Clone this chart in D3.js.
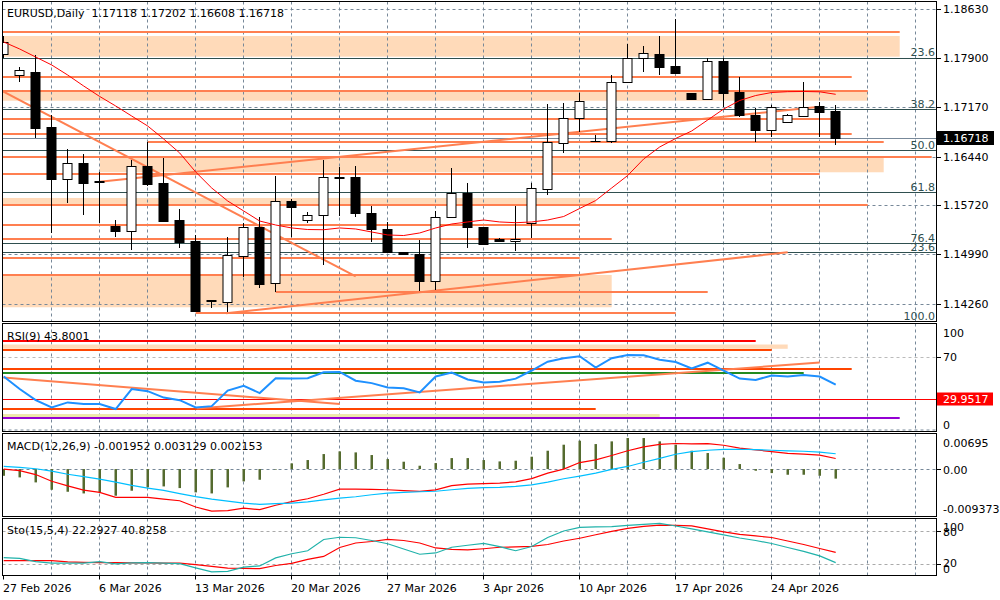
<!DOCTYPE html>
<html>
<head>
<meta charset="utf-8">
<script src="https://cdn.jsdelivr.net/npm/d3@7"></script>
<style>
body { margin: 0; background: #fff; }
svg { display: block; font-family: "DejaVu Sans", sans-serif; font-size: 11px; }
</style>
</head>
<body>
<div id="chart"></div>
<script>
// EURUSD daily bars, one per trading day (incl. sunday bars)
var bar_open = [1.17963,1.17656,1.17700,1.16885,1.16105,1.16342,1.16075,1.15412,1.15343,1.16302,
	1.16054,1.15501,1.15194,1.14300,1.14290,1.14972,1.15402,1.14563,1.15783,1.15501,
	1.15575,1.16134,1.16134,1.15601,1.15372,1.15022,1.14993,1.14601,1.15541,1.15897,
	1.15393,1.15215,1.15190,1.15461,1.15956,1.16639,1.17009,1.16672,1.16677,1.17543,
	1.17899,1.17963,1.17785,1.17380,1.17291,1.17859,1.17404,1.17058,1.16836,1.16959,
	1.17048,1.17192,1.17118];
var bar_high = [1.18230,1.17774,1.17948,1.17058,1.16554,1.16480,1.16213,1.15501,1.16391,1.16662,
	1.16421,1.15664,1.15279,1.14315,1.15249,1.15461,1.15546,1.16158,1.15813,1.15624,
	1.16391,1.16292,1.16302,1.15709,1.15476,1.15034,1.15205,1.15635,1.16268,1.16045,
	1.15398,1.15230,1.15709,1.16054,1.17221,1.17232,1.17389,1.16762,1.17651,1.18111,
	1.18081,1.18230,1.18482,1.17389,1.17908,1.17908,1.17626,1.17158,1.17206,1.17066,
	1.17552,1.17255,1.17202];
var bar_low = [1.17903,1.17552,1.16713,1.15309,1.15753,1.15575,1.15457,1.15254,1.15056,1.16005,
	1.15471,1.15086,1.14145,1.14196,1.14142,1.14661,1.14489,1.14438,1.15249,1.15452,
	1.14834,1.15561,1.15541,1.15179,1.15012,1.14982,1.14453,1.14463,1.15526,1.15082,
	1.15131,1.15175,1.15046,1.15230,1.15872,1.16499,1.16811,1.16662,1.16639,1.17533,
	1.17700,1.17651,1.17667,1.17288,1.17281,1.17181,1.17024,1.16662,1.16728,1.16944,
	1.17033,1.16736,1.16608];
var bar_close = [1.18141,1.17725,1.16861,1.16109,1.16342,1.16054,1.16060,1.15343,1.16302,1.16035,
	1.15491,1.15179,1.14152,1.14310,1.14982,1.15393,1.14552,1.15783,1.15690,1.15575,
	1.16134,1.16130,1.15601,1.15372,1.15022,1.14993,1.14601,1.15541,1.15897,1.15402,
	1.15141,1.15190,1.15212,1.15971,1.16662,1.17009,1.17266,1.16677,1.17543,1.17899,
	1.17973,1.17774,1.17677,1.17291,1.17859,1.17389,1.17058,1.16836,1.17172,1.17058,
	1.17181,1.17107,1.16718];
//moving average on price
var ma_values = [1.18141,1.18037,1.17918,1.17800,1.17651,1.17488,1.17333,1.17192,1.17043,1.16895,
	1.16702,1.16495,1.16213,1.15976,1.15783,1.15635,1.15486,1.15427,1.15383,1.15360,
	1.15357,1.15383,1.15368,1.15323,1.15279,1.15271,1.15309,1.15383,1.15442,1.15472,
	1.15501,1.15472,1.15461,1.15472,1.15501,1.15553,1.15672,1.15790,1.15976,1.16161,
	1.16406,1.16584,1.16710,1.16821,1.16984,1.17147,1.17273,1.17347,1.17392,1.17404,
	1.17407,1.17402,1.17365];

var date_labels = ['27 Feb 2026','6 Mar 2026','13 Mar 2026','20 Mar 2026','27 Mar 2026','3 Apr 2026','10 Apr 2026','17 Apr 2026','24 Apr 2026'];
var date_bars = [0, 6, 12, 18, 24, 30, 36, 42, 48];
var price_ticks = [1.18630, 1.17900, 1.17170, 1.16440, 1.15720, 1.14990, 1.14260];
var last_price = 1.16718;

//hand drawn objects: [price, from bar, to bar]
var h_lines = [[1.18293,-1,56],[1.17626,-1,53],[1.17419,-1,54],[1.16994,-1,52],[1.16776,-1,53],
	[1.16662,9,55],[1.16440,-1,58],[1.16179,-1,51],[1.15728,-1,54],[1.15427,-1,36],
	[1.15224,-1,38],[1.14933,-1,36],[1.14686,-1,36],[1.14438,17,44],[1.14118,12,42]];
//[top, bottom, from bar, to bar]
var zones = [[1.18230,1.17923,-1,56],[1.17419,1.17270,-1,54],[1.16440,1.16209,6,55],
	[1.15828,1.15734,-1,37],[1.14686,1.14207,-1,38]];
//[[bar, price], [bar, price]]
var trend_lines = [[[-0.1,1.17414],[22,1.14664]], [[6,1.16069],[51,1.17181]], [[13.9,1.14118],[49,1.15022]]];
var fib_levels = [1.17908, 1.17147, 1.16539, 1.15912, 1.15156, 1.15022, 1.13989];
var fib_labels = ['23.6', '38.2', '50.0', '61.8', '76.4', '23.6', '100.0'];

//RSI(9)
var rsi_values = [51.4,39.7,29.3,22.5,27.2,25.6,25.6,21.0,39.6,37.7,
	31.7,29.3,22.5,23.7,38.2,42.7,35.9,49.8,49.5,49.8,
	55.4,55.7,47.5,45.2,41.2,40.5,36.5,51.4,55.0,48.6,
	45.8,46.4,49.4,57.0,65.2,68.5,70.3,59.8,68.5,71.5,
	71.2,67.1,65.0,58.9,64.3,56.8,49.5,48.2,52.3,51.4,
	52.9,51.4,43.8];
var rsi_levels = [84.6, 76.2, 58.2, 55.1, 21.0, 12.3];
var rsi_level_ends = [47, 48, 53, 50, 37, 56];
var rsi_zones = [[81.3, 77.3, 49], [16.3, 13.2, 41]];
var rsi_mark = 29.9517;
var rsi_trends = [[[-0.03,50.5],[21,25.6]], [[12.06,21.6],[51,64.4]]];

//MACD(12,26,9)
var macd_hist = [-0.00137,-0.00170,-0.00272,-0.00422,-0.00463,-0.00497,-0.00476,-0.00544,-0.00442,-0.00374,
	-0.00354,-0.00388,-0.00476,-0.00497,-0.00374,-0.00252,-0.00218,-0.00010,0.00116,0.00184,
	0.00306,0.00361,0.00340,0.00286,0.00204,0.00150,0.00068,0.00122,0.00224,0.00224,
	0.00184,0.00156,0.00170,0.00252,0.00374,0.00497,0.00578,0.00510,0.00565,0.00633,
	0.00633,0.00565,0.00497,0.00374,0.00327,0.00231,0.00102,-0.00034,-0.00082,-0.00116,
	-0.00116,-0.00137,-0.00195];
var macd_blue = [0.00055,0.00035,0.00006,-0.00041,-0.00106,-0.00153,-0.00204,-0.00265,-0.00333,-0.00388,
	-0.00435,-0.00500,-0.00561,-0.00612,-0.00653,-0.00694,-0.00720,-0.00704,-0.00694,-0.00669,
	-0.00628,-0.00592,-0.00565,-0.00524,-0.00490,-0.00475,-0.00463,-0.00453,-0.00422,-0.00394,
	-0.00377,-0.00373,-0.00353,-0.00322,-0.00265,-0.00198,-0.00143,-0.00082,-0.00006,0.00053,
	0.00139,0.00218,0.00302,0.00357,0.00384,0.00400,0.00404,0.00396,0.00384,0.00373,
	0.00363,0.00347,0.00313];
var macd_red = [0.00000,-0.00031,-0.00112,-0.00249,-0.00343,-0.00428,-0.00475,-0.00577,-0.00577,-0.00579,
	-0.00612,-0.00647,-0.00775,-0.00857,-0.00849,-0.00798,-0.00829,-0.00739,-0.00663,-0.00606,
	-0.00514,-0.00408,-0.00408,-0.00414,-0.00422,-0.00439,-0.00455,-0.00424,-0.00337,-0.00306,
	-0.00296,-0.00286,-0.00261,-0.00196,-0.00082,0.00000,0.00133,0.00188,0.00277,0.00373,
	0.00451,0.00502,0.00522,0.00512,0.00518,0.00486,0.00428,0.00392,0.00357,0.00320,
	0.00306,0.00286,0.00215];
var macd_range = [-0.009373, 0.00695];

//Stochastic(15,5,4)
var sto_main = [31.4,29.9,24.0,21.3,21.3,21.3,24.1,20.0,21.8,22.2,
	21.3,20.4,12.8,5.6,6.5,14.1,16.4,30.8,38.4,43.8,
	64.1,68.1,67.2,62.3,56.4,47.0,37.5,39.8,50.1,53.7,
	56.9,51.2,43.8,51.5,67.7,79.5,86.1,86.7,87.4,89.4,
	91.5,93.3,88.5,83.1,77.7,72.3,66.8,62.3,56.9,49.7,
	42.5,34.4,22.3];
var sto_signal = [25.9,25.9,25.9,25.9,23.6,22.9,22.3,22.2,22.0,21.8,
	21.4,21.3,18.6,15.5,12.3,11.9,11.5,17.1,20.9,28.1,
	33.5,49.7,57.8,60.5,64.3,62.3,57.8,48.8,46.1,45.2,
	47.4,50.1,50.6,51.5,55.1,61.4,66.3,72.6,78.9,84.0,
	87.6,90.1,89.4,88.5,83.1,77.7,73.2,70.5,67.7,61.4,
	55.1,47.9,40.8];

var orange = '#FF7F50', peach = '#FFDAB9', grid_colour = '#778899';
var chart_left = 2.5, chart_right = 936.5;

var svg = d3.select('#chart').append('svg')
	.attr('width', 1000)
	.attr('height', 600);

var x = d3.scaleLinear().domain([0, 52]).range([3.7, 835.7]);
function px(i){ return Math.floor(x(i)) + 0.5; }

function panel_add(name, top, bottom){
	svg.append('clipPath').attr('id', 'clip_' + name)
		.append('rect')
		.attr('x', chart_left).attr('y', top)
		.attr('width', chart_right - chart_left).attr('height', bottom - top);
	var g = svg.append('g').attr('clip-path', 'url(#clip_' + name + ')');
	return g;
}

function vgrid_add(g, top, bottom){
	for (var k = 3; k <= 57; k += 3){
		g.append('line')
			.attr('x1', px(k)).attr('x2', px(k))
			.attr('y1', top).attr('y2', bottom)
			.style('stroke', grid_colour)
			.style('stroke-dasharray', '3,3');
	}
}

function hline_add(g, y, from_x, to_x, colour, width, dash){
	var l = g.append('line')
		.attr('x1', from_x).attr('x2', to_x)
		.attr('y1', y).attr('y2', y)
		.style('stroke', colour)
		.style('stroke-width', width);
	if (dash) l.style('stroke-dasharray', dash);
	return l;
}

function axis_label(txt, y, tick_y){
	svg.append('text').attr('x', 943).attr('y', y + 4).text(txt);
	if (tick_y != null){
		svg.append('line').attr('x1', 937).attr('x2', 941)
			.attr('y1', Math.round(tick_y) + 0.5).attr('y2', Math.round(tick_y) + 0.5)
			.style('stroke', 'black');
	}
}

// ---------- main price panel ----------
var main_top = 1.5, main_bottom = 321.5;
var y = d3.scaleLinear().domain([1.14260, 1.18630]).range([303.7, 9]);
var gm = panel_add('main', main_top, main_bottom);

zones.forEach(function(z){
	gm.append('rect')
		.attr('x', x(z[2])).attr('y', y(z[0]))
		.attr('width', x(z[3]) - x(z[2]))
		.attr('height', y(z[1]) - y(z[0]))
		.style('fill', peach);
});

vgrid_add(gm, main_top, main_bottom);
price_ticks.forEach(function(p){
	hline_add(gm, Math.round(y(p)) + 0.5, chart_left, chart_right, grid_colour, 1, '3,3');
});

fib_levels.forEach(function(p, i){
	hline_add(gm, Math.round(y(p)) + 0.5, chart_left, chart_right, '#2F4F4F', 1);
	gm.append('text')
		.attr('x', 935).attr('y', y(p) - 1.5)
		.attr('text-anchor', 'end')
		.style('fill', '#2F4F4F')
		.text(fib_labels[i]);
});

//bid line
hline_add(gm, Math.round(y(last_price)) + 0.5, chart_left, chart_right, grid_colour, 1);

h_lines.forEach(function(h){
	hline_add(gm, Math.round(y(h[0])), x(h[1]), x(h[2]), orange, 2);
});

trend_lines.forEach(function(t){
	gm.append('line')
		.attr('x1', x(t[0][0])).attr('y1', y(t[0][1]))
		.attr('x2', x(t[1][0])).attr('y2', y(t[1][1]))
		.style('stroke', orange)
		.style('stroke-width', 2);
});

//candles
for (var i = 0; i < bar_open.length; i++){
	var cx = px(i);
	gm.append('line')
		.attr('x1', cx).attr('x2', cx)
		.attr('y1', Math.round(y(bar_high[i]))).attr('y2', Math.round(y(bar_low[i])))
		.style('stroke', 'black');
	var top_y = Math.round(y(Math.max(bar_open[i], bar_close[i]))) + 0.5;
	var bot_y = Math.round(y(Math.min(bar_open[i], bar_close[i]))) + 0.5;
	gm.append('rect')
		.attr('x', cx - 4.5).attr('y', top_y)
		.attr('width', 9).attr('height', Math.max(bot_y - top_y, 0.01))
		.style('fill', bar_close[i] >= bar_open[i] ? 'white' : 'black')
		.style('stroke', 'black');
}

gm.append('path')
	.datum(ma_values)
	.attr('d', d3.line().x(function(d, i){ return x(i); }).y(function(d){ return y(d); }))
	.style('fill', 'none')
	.style('stroke', 'red')
	.style('stroke-width', 1);

svg.append('text').attr('x', 7).attr('y', 17)
	.attr('xml:space', 'preserve')
	.text('EURUSD,Daily  1.17118 1.17202 1.16608 1.16718');

price_ticks.forEach(function(p){
	axis_label(p.toFixed(5), y(p), y(p));
});
svg.append('rect').attr('x', 937).attr('y', Math.round(y(last_price)) - 7)
	.attr('width', 57).attr('height', 14).style('fill', 'black');
svg.append('text').attr('x', 943).attr('y', y(last_price) + 4)
	.style('fill', 'white').text(last_price.toFixed(5));

// ---------- RSI panel ----------
var rsi_top = 323.5, rsi_bottom = 431.5;
var yr = d3.scaleLinear().domain([0, 100]).range([431.5, 324.5]);
var gr = panel_add('rsi', rsi_top, rsi_bottom);
vgrid_add(gr, rsi_top, rsi_bottom);
hline_add(gr, Math.round(yr(70)) + 0.5, chart_left, chart_right, '#BBBBBB', 1, '3,3');
hline_add(gr, Math.round(yr(30)) + 0.5, chart_left, chart_right, '#BBBBBB', 1, '3,3');
hline_add(gr, rsi_bottom - 1.5, chart_left, chart_right, grid_colour, 1, '3,3');

var rsi_zone_colours = [peach, '#EEE8AA'];
rsi_zones.forEach(function(z, k){
	gr.append('rect')
		.attr('x', chart_left).attr('y', yr(z[0]))
		.attr('width', x(z[2]) - chart_left)
		.attr('height', yr(z[1]) - yr(z[0]))
		.style('fill', rsi_zone_colours[k]);
});
var rsi_level_colours = ['#FF0000', '#FF4500', '#FF4500', '#228B22', '#FF4500', '#9400D3'];
rsi_levels.forEach(function(v, k){
	hline_add(gr, Math.round(yr(v)), chart_left, x(rsi_level_ends[k]), rsi_level_colours[k], 2);
});
hline_add(gr, Math.round(yr(rsi_mark)) + 0.5, chart_left, chart_right, '#FF0000', 1);

rsi_trends.forEach(function(t){
	gr.append('line')
		.attr('x1', x(t[0][0])).attr('y1', yr(t[0][1]))
		.attr('x2', x(t[1][0])).attr('y2', yr(t[1][1]))
		.style('stroke', orange)
		.style('stroke-width', 2);
});
gr.append('path')
	.datum(rsi_values)
	.attr('d', d3.line().x(function(d, i){ return x(i); }).y(function(d){ return yr(d); }))
	.style('fill', 'none')
	.style('stroke', '#1E90FF')
	.style('stroke-width', 2);

svg.append('text').attr('x', 7).attr('y', 339.5).text('RSI(9) 43.8001');
axis_label('100', rsi_top + 9.5, null);
axis_label('70', yr(70), yr(70));
axis_label('0', rsi_bottom - 7, null);
svg.append('rect').attr('x', 937).attr('y', Math.round(yr(rsi_mark)) - 6.5)
	.attr('width', 56).attr('height', 13).style('fill', '#FF0000');
svg.append('text').attr('x', 943).attr('y', yr(rsi_mark) + 4)
	.style('fill', 'white').text(rsi_mark.toFixed(4));

// ---------- MACD panel ----------
var macd_top = 433.5, macd_bottom = 516.5;
var ym = d3.scaleLinear().domain(macd_range).range([515, 435]);
var gd = panel_add('macd', macd_top, macd_bottom);
vgrid_add(gd, macd_top, macd_bottom);
hline_add(gd, Math.round(ym(0)) + 0.5, chart_left, chart_right, grid_colour, 1, '3,3');

gd.selectAll('.hist')
	.data(macd_hist)
	.enter()
	.append('rect')
	.attr('class', 'hist')
	.attr('x', function(d, i){ return px(i) - 1; })
	.attr('y', function(d){ return Math.min(ym(d), ym(0)); })
	.attr('width', 2.5)
	.attr('height', function(d){ return Math.abs(ym(d) - ym(0)); })
	.style('fill', '#556B2F');

[[macd_red, '#FF0000'], [macd_blue, '#00BFFF']].forEach(function(s){
	gd.append('path')
		.datum(s[0])
		.attr('d', d3.line().x(function(d, i){ return x(i); }).y(function(d){ return ym(d); }))
		.style('fill', 'none')
		.style('stroke', s[1])
		.style('stroke-width', 1.2);
});

svg.append('text').attr('x', 7).attr('y', 450).text('MACD(12,26,9) -0.001952 0.003129 0.002153');
axis_label('0.00695', macd_top + 9.5, null);
axis_label('0.00', ym(0) + 1, ym(0));
axis_label('-0.009373', macd_bottom - 7.5, null);

// ---------- Stochastic panel ----------
var sto_top = 518.5, sto_bottom = 575.5;
var ys = d3.scaleLinear().domain([0, 100]).range([575, 519.6]);
var gs = panel_add('sto', sto_top, sto_bottom);
vgrid_add(gs, sto_top, sto_bottom);
hline_add(gs, Math.round(ys(80)) + 0.5, chart_left, chart_right, '#AAAAAA', 1, '3,3');
hline_add(gs, Math.round(ys(20)) + 0.5, chart_left, chart_right, '#AAAAAA', 1, '3,3');

[[sto_signal, '#FF0000'], [sto_main, '#20B2AA']].forEach(function(s){
	gs.append('path')
		.datum(s[0])
		.attr('d', d3.line().x(function(d, i){ return x(i); }).y(function(d){ return ys(d); }))
		.style('fill', 'none')
		.style('stroke', s[1])
		.style('stroke-width', 1.2);
});

svg.append('text').attr('x', 7).attr('y', 533.5).text('Sto(15,5,4) 22.2927 40.8258');
axis_label('100', sto_top + 8.5, null);
axis_label('80', ys(80) + 1, ys(80));
axis_label('20', ys(20) - 1, ys(20));
axis_label('0', sto_bottom - 7, null);

// ---------- borders and time axis ----------
[[main_top, main_bottom], [rsi_top, rsi_bottom], [macd_top, macd_bottom], [sto_top, sto_bottom]].forEach(function(p){
	svg.append('rect')
		.attr('x', chart_left).attr('y', p[0])
		.attr('width', chart_right - chart_left).attr('height', p[1] - p[0])
		.style('fill', 'none')
		.style('stroke', 'black');
});

date_bars.forEach(function(b, k){
	svg.append('line')
		.attr('x1', px(b)).attr('x2', px(b))
		.attr('y1', sto_bottom).attr('y2', sto_bottom + 4)
		.style('stroke', 'black');
	svg.append('text')
		.attr('x', px(b) - 0.5).attr('y', 591.5)
		.text(date_labels[k]);
});
</script>
</body>
</html>
